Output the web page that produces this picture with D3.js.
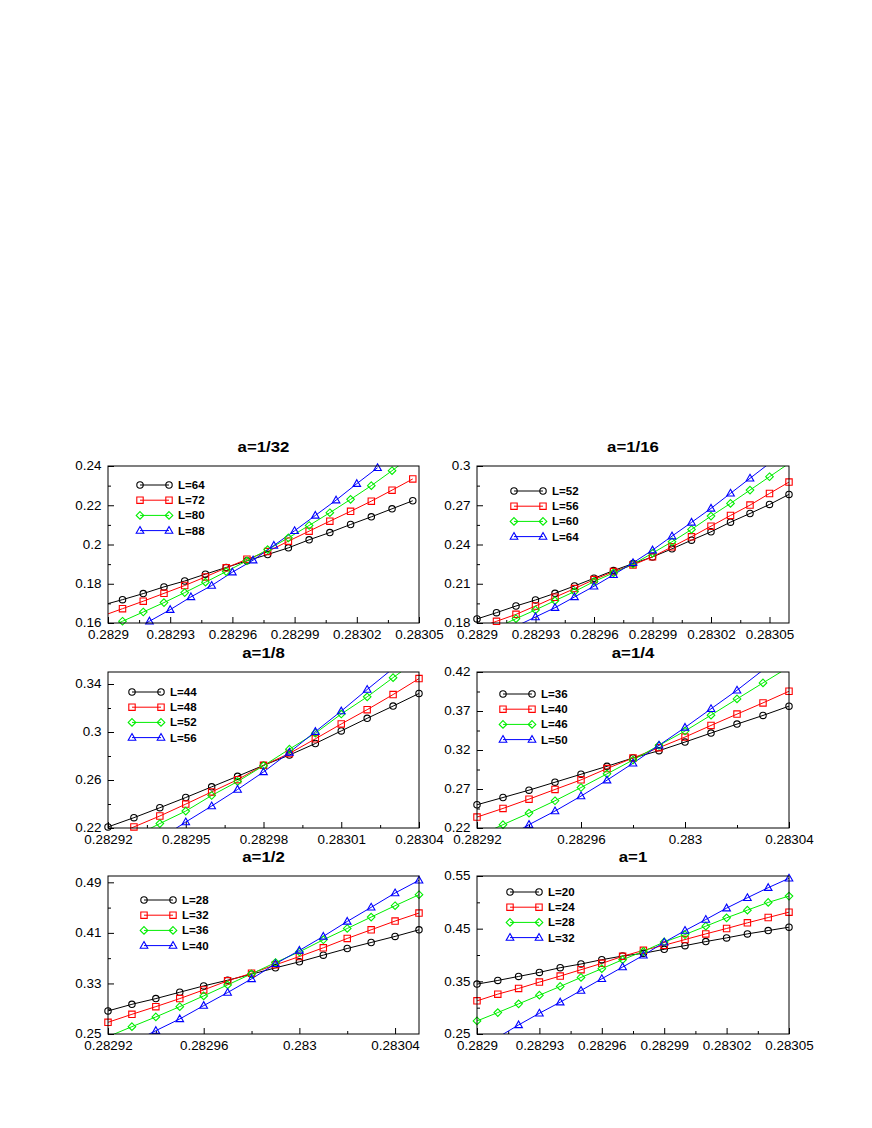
<!DOCTYPE html>
<html><head><meta charset="utf-8">
<script src="https://cdn.jsdelivr.net/npm/d3@7"></script>
<style>body{margin:0;background:#fff}</style>
</head><body>
<svg id="c" width="872" height="1128"></svg>
<script>
// ---------- DATA ----------
// a = 1/32
const a32_x  = [0.282897,0.282907,0.282917,0.282927,0.282937,0.282947,0.282957,0.282967,0.282977,0.282987,0.282997,0.283007,0.283017,0.283027,0.283037,0.283047];
const a32_xB = [0.28291,0.28292,0.28293,0.28294,0.28295,0.28296,0.28297,0.28298,0.28299,0.283,0.28301,0.28302,0.28303];
const a32_L64 = [0.1690,0.1719,0.1750,0.1784,0.1814,0.1849,0.1883,0.1917,0.1949,0.1983,0.2024,0.2061,0.2102,0.2141,0.2182,0.2223];
const a32_L72 = [0.1635,0.1673,0.1711,0.1751,0.1791,0.1835,0.1881,0.1925,0.1964,0.2017,0.2068,0.2119,0.2169,0.2221,0.2277,0.2334];
const a32_L80 = [0.1560,0.1609,0.1656,0.1704,0.1755,0.1808,0.1862,0.1917,0.1974,0.2034,0.2097,0.2162,0.2230,0.2300,0.2376,0.2455];
const a32_L88 = [0.1545,0.1609,0.1668,0.1733,0.1791,0.1859,0.1920,0.1995,0.2070,0.2148,0.2226,0.2310,0.2391];
const a32_xTicks = [0.2829,0.28293,0.28296,0.28299,0.28302,0.28305];
const a32_xLabels = ["0.2829","0.28293","0.28296","0.28299","0.28302","0.28305"];
const a32_yTicks = [0.16,0.18,0.2,0.22,0.24];
const a32_yLabels = ["0.16","0.18","0.2","0.22","0.24"];

// a = 1/16
const a16_x = [0.2829,0.28291,0.28292,0.28293,0.28294,0.28295,0.28296,0.28297,0.28298,0.28299,0.283,0.28301,0.28302,0.28303,0.28304,0.28305,0.28306];
const a16_L52 = [0.1831,0.1879,0.1930,0.1976,0.2027,0.2083,0.2142,0.2201,0.2254,0.2305,0.2367,0.2433,0.2497,0.2571,0.2637,0.2706,0.2783];
const a16_L56 = [0.1760,0.1813,0.1866,0.1930,0.1997,0.2063,0.2132,0.2193,0.2244,0.2306,0.2382,0.2459,0.2540,0.2622,0.2701,0.2790,0.2877];
const a16_L60 = [0.1700,0.1765,0.1833,0.1900,0.1971,0.2040,0.2117,0.2183,0.2249,0.2334,0.2421,0.2515,0.2617,0.2714,0.2816,0.2918,0.3020];
const a16_L64 = [0.1640,0.1705,0.1775,0.1846,0.1917,0.1999,0.2081,0.2168,0.2260,0.2357,0.2464,0.2569,0.2676,0.2791,0.2906,0.3021,0.3140];
const a16_xTicks = [0.2829,0.28293,0.28296,0.28299,0.28302,0.28305];
const a16_xLabels = ["0.2829","0.28293","0.28296","0.28299","0.28302","0.28305"];
const a16_yTicks = [0.18,0.21,0.24,0.27,0.3];
const a16_yLabels = ["0.18","0.21","0.24","0.27","0.3"];

// a = 1/8
const a8_x = [0.28292,0.28293,0.28294,0.28295,0.28296,0.28297,0.28298,0.28299,0.283,0.28301,0.28302,0.28303,0.28304];
const a8_L44 = [0.2209,0.2286,0.2369,0.2454,0.2543,0.2631,0.2722,0.2808,0.2904,0.3009,0.3114,0.3216,0.3321];
const a8_L48 = [0.2120,0.2209,0.2300,0.2399,0.2501,0.2603,0.2722,0.2821,0.2943,0.3067,0.3186,0.3312,0.3445];
const a8_L52 = [0.2020,0.2127,0.2237,0.2341,0.2471,0.2587,0.2719,0.2857,0.2990,0.3150,0.3293,0.3453,0.3610];
const a8_L56 = [0.1850,0.1980,0.2110,0.2250,0.2383,0.2521,0.2667,0.2830,0.3003,0.3174,0.3354,0.3530,0.3710];
const a8_xTicks = [0.28292,0.28295,0.28298,0.28301,0.28304];
const a8_xLabels = ["0.28292","0.28295","0.28298","0.28301","0.28304"];
const a8_yTicks = [0.22,0.26,0.3,0.34];
const a8_yLabels = ["0.22","0.26","0.3","0.34"];

// a = 1/4
const a4_x = [0.28292,0.28293,0.28294,0.28295,0.28296,0.28297,0.28298,0.28299,0.283,0.28301,0.28302,0.28303,0.28304];
const a4_L36 = [0.2498,0.2591,0.2685,0.2787,0.2889,0.2991,0.3098,0.3191,0.3302,0.3417,0.3532,0.3643,0.3762];
const a4_L40 = [0.2340,0.2451,0.2570,0.2694,0.2817,0.2962,0.3098,0.3230,0.3366,0.3515,0.3660,0.3804,0.3953];
const a4_L46 = [0.2090,0.2243,0.2391,0.2549,0.2719,0.2894,0.3072,0.3260,0.3443,0.3647,0.3855,0.4060,0.4264];
const a4_L50 = [0.1870,0.2050,0.2243,0.2417,0.2609,0.2813,0.3030,0.3260,0.3489,0.3728,0.3966,0.4225,0.4480];
const a4_xTicks = [0.28292,0.28296,0.283,0.28304];
const a4_xLabels = ["0.28292","0.28296","0.283","0.28304"];
const a4_yTicks = [0.22,0.27,0.32,0.37,0.42];
const a4_yLabels = ["0.22","0.27","0.32","0.37","0.42"];

// a = 1/2
const a2_x = [0.28292,0.28293,0.28294,0.28295,0.28296,0.28297,0.28298,0.28299,0.283,0.28301,0.28302,0.28303,0.28304,0.28305];
const a2_L28 = [0.2865,0.2970,0.3060,0.3161,0.3261,0.3351,0.3446,0.3547,0.3642,0.3748,0.3853,0.3948,0.4044,0.4149];
const a2_L32 = [0.2685,0.2812,0.2933,0.3060,0.3198,0.3341,0.3462,0.3594,0.3726,0.3864,0.4012,0.4149,0.4287,0.4414];
const a2_L36 = [0.2458,0.2616,0.2770,0.2933,0.3103,0.3277,0.3452,0.3631,0.3800,0.3991,0.4170,0.4350,0.4530,0.4704];
const a2_L40 = [0.2170,0.2360,0.2553,0.2738,0.2949,0.3156,0.3372,0.3610,0.3822,0.4044,0.4281,0.4504,0.4731,0.4932];
const a2_xTicks = [0.28292,0.28296,0.283,0.28304];
const a2_xLabels = ["0.28292","0.28296","0.283","0.28304"];
const a2_yTicks = [0.25,0.33,0.41,0.49];
const a2_yLabels = ["0.25","0.33","0.41","0.49"];

// a = 1
const a1_x = [0.2829,0.28291,0.28292,0.28293,0.28294,0.28295,0.28296,0.28297,0.28298,0.28299,0.283,0.28301,0.28302,0.28303,0.28304,0.28305];
const a1_L20 = [0.3447,0.3517,0.3593,0.3670,0.3759,0.3829,0.3911,0.3981,0.4032,0.4108,0.4178,0.4255,0.4325,0.4401,0.4464,0.4528];
const a1_L24 = [0.3129,0.3257,0.3365,0.3485,0.3600,0.3721,0.3841,0.3975,0.4089,0.4185,0.4293,0.4401,0.4503,0.4611,0.4712,0.4814];
const a1_L28 = [0.2748,0.2907,0.3072,0.3237,0.3403,0.3574,0.3740,0.3911,0.4070,0.4248,0.4388,0.4547,0.4706,0.4852,0.4998,0.5119];
const a1_L32 = [0.2200,0.2436,0.2672,0.2894,0.3104,0.3326,0.3549,0.3771,0.3994,0.4242,0.4464,0.4674,0.4890,0.5087,0.5278,0.5456];
const a1_xTicks = [0.2829,0.28293,0.28296,0.28299,0.28302,0.28305];
const a1_xLabels = ["0.2829","0.28293","0.28296","0.28299","0.28302","0.28305"];
const a1_yTicks = [0.25,0.35,0.45,0.55];
const a1_yLabels = ["0.25","0.35","0.45","0.55"];

const titles = ["a=1/32","a=1/16","a=1/8","a=1/4","a=1/2","a=1"];
const legendLabels = [
  ["L=64","L=72","L=80","L=88"],
  ["L=52","L=56","L=60","L=64"],
  ["L=44","L=48","L=52","L=56"],
  ["L=36","L=40","L=46","L=50"],
  ["L=28","L=32","L=36","L=40"],
  ["L=20","L=24","L=28","L=32"]
];

// ---------- PANELS (data refs) ----------
const panels = [
  {xDomain:[0.2829,0.28305], yDomain:[0.16,0.24], xTicks:a32_xTicks, xLabels:a32_xLabels, yTicks:a32_yTicks, yLabels:a32_yLabels,
   series:[[a32_x,a32_L64],[a32_x,a32_L72],[a32_x,a32_L80],[a32_xB,a32_L88]]},
  {xDomain:[0.2829,0.28306], yDomain:[0.18,0.30], xTicks:a16_xTicks, xLabels:a16_xLabels, yTicks:a16_yTicks, yLabels:a16_yLabels,
   series:[[a16_x,a16_L52],[a16_x,a16_L56],[a16_x,a16_L60],[a16_x,a16_L64]]},
  {xDomain:[0.28292,0.28304], yDomain:[0.22,0.35], xTicks:a8_xTicks, xLabels:a8_xLabels, yTicks:a8_yTicks, yLabels:a8_yLabels,
   series:[[a8_x,a8_L44],[a8_x,a8_L48],[a8_x,a8_L52],[a8_x,a8_L56]]},
  {xDomain:[0.28292,0.28304], yDomain:[0.22,0.42], xTicks:a4_xTicks, xLabels:a4_xLabels, yTicks:a4_yTicks, yLabels:a4_yLabels,
   series:[[a4_x,a4_L36],[a4_x,a4_L40],[a4_x,a4_L46],[a4_x,a4_L50]]},
  {xDomain:[0.28292,0.28305], yDomain:[0.25,0.50], xTicks:a2_xTicks, xLabels:a2_xLabels, yTicks:a2_yTicks, yLabels:a2_yLabels,
   series:[[a2_x,a2_L28],[a2_x,a2_L32],[a2_x,a2_L36],[a2_x,a2_L40]]},
  {xDomain:[0.2829,0.28305], yDomain:[0.25,0.55], xTicks:a1_xTicks, xLabels:a1_xLabels, yTicks:a1_yTicks, yLabels:a1_yLabels,
   series:[[a1_x,a1_L20],[a1_x,a1_L24],[a1_x,a1_L28],[a1_x,a1_L32]]}
];

// ---------- LAYOUT ----------
const layout = [
  {left:108, top:466, w:311, h:157, lx:140, rx:169, tx:178, ly:485},
  {left:477, top:466, w:312, h:157, lx:514, rx:543, tx:552, ly:491},
  {left:108, top:672, w:311, h:156, lx:132, rx:161, tx:170, ly:692},
  {left:477, top:672, w:312, h:156, lx:503, rx:532, tx:541, ly:694},
  {left:108, top:876, w:311, h:158, lx:144, rx:173, tx:182, ly:900},
  {left:477, top:876, w:312, h:158, lx:510, rx:539, tx:548, ly:892}
];
const colors = ["#000000","#ff0000","#00ee00","#0000ff"];
const shapes = ["circle","square","diamond","triangle"];
const FONT = "'Liberation Sans', Arial, Helvetica, sans-serif";

const svg = d3.select("#c");

function drawMarker(g, shape, cx, cy, color) {
  if (shape === "circle") {
    g.append("circle").attr("cx",cx).attr("cy",cy).attr("r",3.2)
      .attr("fill","none").attr("stroke",color).attr("stroke-width",1.1);
    return;
  }
  let p;
  if (shape === "square") p = `M${cx-3.2},${cy-3.2}h6.4v6.4h-6.4Z`;
  else if (shape === "diamond") p = `M${cx},${cy-3.8}L${cx+3.8},${cy}L${cx},${cy+3.8}L${cx-3.8},${cy}Z`;
  else p = `M${cx},${cy-4}L${cx+3.8},${cy+2.7}L${cx-3.8},${cy+2.7}Z`;
  g.append("path").attr("d",p).attr("fill","none").attr("stroke",color).attr("stroke-width",1.1);
}

function mids(arr, dom) {
  const out = [];
  const step = arr[1]-arr[0];
  for (let i=0;i<arr.length;i++) {
    const m = arr[i]+step/2;
    if (m <= dom[1]+1e-12) out.push(m);
    const mb = arr[i]-step/2;
    if (i===0 && mb >= dom[0]-1e-12) out.push(mb);
  }
  return out;
}

panels.forEach((P, pi) => {
  const L = layout[pi];
  const x = d3.scaleLinear().domain(P.xDomain).range([L.left, L.left+L.w]);
  const y = d3.scaleLinear().domain(P.yDomain).range([L.top+L.h, L.top]);
  const g = svg.append("g");
  const bottom = L.top+L.h;

  // minor ticks
  g.append("g").attr("transform",`translate(0,${bottom})`)
    .call(d3.axisBottom(x).tickValues(mids(P.xTicks,P.xDomain)).tickSize(-3).tickSizeOuter(0).tickFormat(""))
    .call(a=>a.select(".domain").remove());
  g.append("g").attr("transform",`translate(${L.left},0)`)
    .call(d3.axisLeft(y).tickValues(mids(P.yTicks,P.yDomain)).tickSize(-3).tickSizeOuter(0).tickFormat(""))
    .call(a=>a.select(".domain").remove());

  // major ticks
  const xa = g.append("g").attr("transform",`translate(0,${bottom})`)
    .call(d3.axisBottom(x).tickValues(P.xTicks).tickSize(-6).tickSizeOuter(0).tickPadding(7.5)
      .tickFormat((d,i)=>P.xLabels[i]))
    .call(a=>a.select(".domain").remove());
  const ya = g.append("g").attr("transform",`translate(${L.left},0)`)
    .call(d3.axisLeft(y).tickValues(P.yTicks).tickSize(-6).tickSizeOuter(0).tickPadding(6)
      .tickFormat((d,i)=>P.yLabels[i]))
    .call(a=>a.select(".domain").remove());
  [xa, ya].forEach(a => {
    a.attr("font-family", FONT).attr("font-size", 12.2);
    a.selectAll("line").attr("stroke","#000").attr("stroke-width",1);
    a.selectAll("text").attr("fill","#000").attr("transform","scale(1.1,1)");
  });

  // clip
  const cid = "clip"+pi;
  svg.append("clipPath").attr("id",cid).append("rect")
    .attr("x",L.left).attr("y",L.top).attr("width",L.w).attr("height",L.h);

  // lines
  const line = d3.line().x(d=>x(d[0])).y(d=>y(d[1]));
  P.series.forEach((s, si) => {
    const pts = s[0].map((xv,i)=>[xv, s[1][i]]);
    g.append("path").attr("d", line(pts)).attr("fill","none")
      .attr("stroke", colors[si]).attr("stroke-width",1)
      .attr("clip-path",`url(#${cid})`);
  });
  // markers
  const eps = 1e-9;
  P.series.forEach((s, si) => {
    s[0].forEach((xv,i) => {
      const yv = s[1][i];
      if (xv < P.xDomain[0]-eps || xv > P.xDomain[1]+eps) return;
      const span = P.yDomain[1]-P.yDomain[0];
      if (yv < P.yDomain[0]-span*0.012 || yv > P.yDomain[1]+span*0.012) return;
      drawMarker(g, shapes[si], x(xv), y(yv), colors[si]);
    });
  });

  // frame
  g.append("rect").attr("x",L.left).attr("y",L.top).attr("width",L.w).attr("height",L.h)
    .attr("fill","none").attr("stroke","#000").attr("stroke-width",1);

  // title
  const cx = L.left + L.w/2;
  g.append("text").attr("transform",`translate(${cx},${L.top-14}) scale(1.2,1)`)
    .attr("text-anchor","middle").attr("font-family",FONT).attr("font-size",14)
    .attr("font-weight","bold").text(titles[pi]);

  // legend
  legendLabels[pi].forEach((lab, k) => {
    const ly = L.ly + k*15.2;
    g.append("line").attr("x1",L.lx).attr("x2",L.rx).attr("y1",ly).attr("y2",ly)
      .attr("stroke",colors[k]).attr("stroke-width",1);
    drawMarker(g, shapes[k], L.lx, ly, colors[k]);
    drawMarker(g, shapes[k], L.rx, ly, colors[k]);
    g.append("text").attr("transform",`translate(${L.tx},${ly+4}) scale(1.05,1)`)
      .attr("font-family",FONT).attr("font-size",11).attr("font-weight","bold").text(lab);
  });
});
</script>
</body></html>
